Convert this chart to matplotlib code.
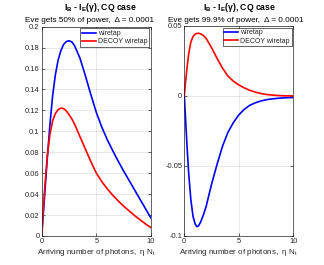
import matplotlib
matplotlib.use("Agg")
import matplotlib.pyplot as plt

plt.rcParams['font.family'] = ['Liberation Sans', 'DejaVu Sans']
plt.rcParams['mathtext.default'] = 'regular'

# ---- left panel: Eve gets 50% of power ----
left_x = [0, 0.25, 0.5, 0.75, 1, 1.25, 1.5, 1.75, 2, 2.25, 2.5, 2.75, 3,
          3.5, 4, 4.5, 5, 5.5, 6, 6.5, 7, 7.5, 8, 8.5, 9, 9.5, 10]
left_wiretap = [0, 0.036, 0.073, 0.106, 0.134, 0.154, 0.168, 0.177, 0.183,
                0.1858, 0.1866, 0.1855, 0.182, 0.170, 0.153, 0.135, 0.118,
                0.104, 0.092, 0.0815, 0.0715, 0.062, 0.053, 0.044, 0.035,
                0.026, 0.017]
left_decoy = [0, 0.042, 0.075, 0.097, 0.110, 0.117, 0.1208, 0.1222, 0.1218,
              0.1195, 0.116, 0.112, 0.107, 0.095, 0.083, 0.071, 0.060,
              0.052, 0.045, 0.039, 0.0335, 0.0285, 0.024, 0.0195, 0.0155,
              0.0115, 0.008]

# ---- right panel: Eve gets 99.9% of power ----
right_x = [0, 0.1, 0.25, 0.4, 0.6, 0.8, 1, 1.15, 1.3, 1.5, 1.75, 2, 2.5, 3,
           3.5, 4, 4.5, 5, 5.5, 6, 6.5, 7, 7.5, 8, 8.5, 9, 9.5, 10]
right_wiretap = [0, -0.014, -0.036, -0.055, -0.074, -0.086, -0.0915, -0.0933,
                 -0.0928, -0.090, -0.085, -0.079, -0.063, -0.049, -0.036,
                 -0.026, -0.019, -0.0135, -0.0095, -0.0067, -0.0049, -0.0036,
                 -0.0027, -0.0021, -0.0017, -0.0014, -0.0012, -0.0011]
right_decoy = [0, 0.009, 0.020, 0.030, 0.0385, 0.0425, 0.0442, 0.0447,
               0.0448, 0.0444, 0.0432, 0.0412, 0.0345, 0.027, 0.020, 0.0142,
               0.0106, 0.0079, 0.0058, 0.0041, 0.0028, 0.0018, 0.0011,
               0.0007, 0.0004, 0.0002, 0.0001, 0.0001]

subtitles = ["Eve gets 50% of power,  \u0394 = 0.0001",
             "Eve gets 99.9% of power,  \u0394 = 0.0001"]
title = "I$_B$ - I$_E$(\u03b3), CQ case"
xlabel = "Arriving number of photons,  \u03b7 N$_t$"

W, H = 324, 265
fig = plt.figure(figsize=(W / 100, H / 100), dpi=100)

ink = '#262626'

def make_axes(x0, x1, top, bottom):
    return fig.add_axes([x0 / W, 1 - bottom / H, (x1 - x0) / W, (bottom - top) / H])

ax1 = make_axes(41.7, 151, 26.7, 236)
ax2 = make_axes(184.3, 293.3, 26, 236)

ax1.plot(left_x, left_wiretap, color='#0000ff', lw=1.2, label='wiretap')
ax1.plot(left_x, left_decoy, color='#ff0000', lw=1.2, label='DECOY wiretap')
ax1.set_ylim(0, 0.2)
ax1.set_yticks([0, 0.02, 0.04, 0.06, 0.08, 0.1, 0.12, 0.14, 0.16, 0.18, 0.2])
ax1.set_yticklabels(['0', '0.02', '0.04', '0.06', '0.08', '0.1', '0.12',
                     '0.14', '0.16', '0.18', '0.2'])

ax2.plot(right_x, right_wiretap, color='#0000ff', lw=1.2, label='wiretap')
ax2.plot(right_x, right_decoy, color='#ff0000', lw=1.2, label='DECOY wiretap')
ax2.set_ylim(-0.1, 0.05)
ax2.set_yticks([-0.1, -0.05, 0, 0.05])
ax2.set_yticklabels(['-0.1', '-0.05', '0', '0.05'])

title_x = [101, 240]
sub_x = [89.5, 236]

for i, ax in enumerate([ax1, ax2]):
    ax.set_xlim(0, 10)
    ax.set_xticks([0, 5, 10])
    ax.grid(True, color='#262626', alpha=0.15, lw=0.5)
    ax.tick_params(direction='in', length=2, width=0.5, labelsize=5.4,
                   colors=ink, pad=1.5, top=True, right=True)
    for s in ax.spines.values():
        s.set_color('#262626')
        s.set_linewidth(0.5)
    ax.set_xlabel(xlabel, fontsize=5.8, color=ink, labelpad=1.5)
    leg = ax.legend(loc='upper right', fontsize=5, frameon=True, fancybox=False,
                    borderaxespad=0.25, handlelength=2.0, handletextpad=0.3,
                    borderpad=0.25, labelspacing=0.15)
    leg.get_frame().set_edgecolor('#262626')
    leg.get_frame().set_linewidth(0.5)
    leg.get_frame().set_alpha(1)
    for t in leg.get_texts():
        t.set_color(ink)
    fig.text(title_x[i] / W, 1 - 10 / H, title, ha='center', va='baseline',
             fontsize=6.2, fontweight='bold', color='#000000')
    fig.text(sub_x[i] / W, 1 - 22 / H, subtitles[i], ha='center', va='baseline',
             fontsize=5.9, color='#000000')

fig.savefig("out.png", dpi=100)
